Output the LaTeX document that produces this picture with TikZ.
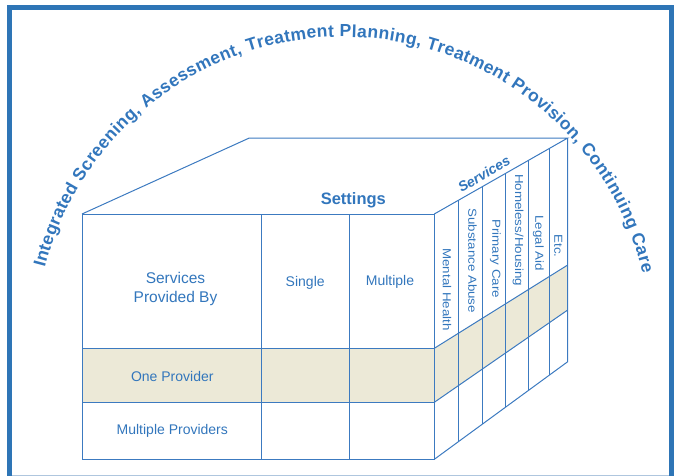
\documentclass[tikz,border=0pt]{standalone}
\usepackage{fontspec}
\setmainfont{Liberation Sans}
\usetikzlibrary{calc,decorations.text}

\definecolor{framecol}{RGB}{46,117,182}
\definecolor{framelight}{RGB}{175,198,222}
\definecolor{linecol}{RGB}{60,122,192}
\definecolor{textcol}{RGB}{50,118,188}
\definecolor{bandcol}{RGB}{236,233,215}

\tikzset{
  cubeline/.style={draw=linecol, line width=1pt},
  celltext/.style={text=textcol, font=\fontsize{14}{16}\selectfont, align=center},
  svclabel/.style={rotate=-90, xscale=1.15, text=textcol, font=\fontsize{11.6}{13}\selectfont},
}

\begin{document}
\begin{tikzpicture}[x=1pt, y=-1pt]
    \useasboundingbox (0,0) rectangle (674,476);

    % Outer frame
    \draw[framecol, line width=4.8pt] (9.7,7.3) rectangle (671.5,490);
    \draw[framelight, line width=1pt] (12,475.5) -- (669,475.5);

    % Corners of the block
    \coordinate (ftl) at (82,214);
    \coordinate (ftr) at (434.3,214);
    \coordinate (fbl) at (82,459.3);
    \coordinate (fbr) at (434.3,459.3);
    \coordinate (btl) at (249.3,138);
    \coordinate (btr) at (567.7,138);
    \coordinate (bbr) at (567.7,361.7);

    % Shaded band (one provider)
    \fill[bandcol] (82,348.3) rectangle (434.3,402.3);
    \fill[bandcol] (434.3,348.3) -- (567.7,265) -- (567.7,310) -- (434.3,402.3) -- cycle;

    % Front face grid
    \draw[cubeline] (ftl) rectangle (fbr);
    \draw[cubeline] (261.7,214) -- (261.7,459.3);
    \draw[cubeline] (349.3,214) -- (349.3,459.3);
    \draw[cubeline] (82,348.3) -- (434.3,348.3);
    \draw[cubeline] (82,402.3) -- (434.3,402.3);

    % Top and side faces
    \draw[cubeline] (ftl) -- (btl) -- (btr) -- (ftr);
    \draw[cubeline] (btr) -- (bbr) -- (fbr);
    \draw[cubeline] (434.3,348.3) -- (567.7,265);
    \draw[cubeline] (434.3,402.3) -- (567.7,310);
    \foreach \t in {0.185,0.363,0.537,0.708,0.862}
        \draw[cubeline] ($(ftr)!\t!(btr)$) -- ($(fbr)!\t!(bbr)$);

    % Front face labels
    \node[text=textcol, font=\bfseries\fontsize{16.5}{18}\selectfont] (settings) at (353.3,200.7) {Settings};
    \node[celltext, font=\fontsize{15.5}{18.3}\selectfont] (provby) at (175.5,289) {Services\\Provided By};
    \node[celltext] (single) at (305.2,283.3) {Single};
    \node[celltext] (multiple) at (390,281.7) {Multiple};
    \node[celltext] (oneprov) at (172.3,376) {One Provider};
    \node[celltext] (multprov) at (172.3,430.7) {Multiple Providers};

    % Side face labels
    \node[text=textcol, font=\bfseries\itshape\fontsize{14}{16}\selectfont, rotate=30] (services) at (484,174) {Services};
    \node[svclabel] (mental) at (447,289.5) {Mental Health};
    \node[svclabel] (subst) at (472.5,260.8) {Substance Abuse};
    \node[svclabel] (primary) at (495.3,258.8) {Primary Care};
    \node[svclabel] (homeless) at (518,230) {Homeless/Housing};
    \node[svclabel] (legal) at (538.3,243.3) {Legal Aid};
    \node[svclabel] (etc) at (558.3,246) {Etc.};

    % Curved title
    \path[decorate, decoration={text along path, text align={fit to path}, text color=textcol,
        text={|\bfseries\fontsize{17.5}{19}\selectfont|Integrated Screening, Assessment, Treatment Planning, Treatment Provision, Continuing Care}}]
        (343,345) ++(-165.5:308) arc[start angle=-165.5, end angle=-13.5, radius=308];
\end{tikzpicture}
\end{document}
